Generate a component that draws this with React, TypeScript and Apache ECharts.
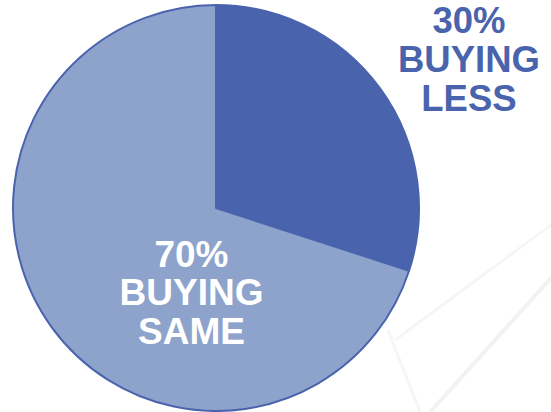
import React, { useEffect, useRef } from "react";
import * as echarts from "echarts";

const categories = ["BUYING LESS", "BUYING SAME"];
const values = [30, 70];
const colors = ["#4a63ad", "#8da3cc"];

export default function App() {
  const ref = useRef<HTMLDivElement>(null);
  useEffect(() => {
    if (!ref.current) return;
    const chart = echarts.init(ref.current, null, { renderer: "svg" });
    const font = "'Liberation Sans', Arial, sans-serif";
    const lines = (i: number) => [`${values[i]}%`, ...categories[i].split(" ")];
    const labelTexts = (i: number, cx: number, y0: number, step: number, fill: string, size: number) =>
      lines(i).map((t, k) => ({
        type: "text",
        x: cx,
        y: y0 + k * step,
        z: 10,
        style: {
          text: t,
          fill,
          font: `bold ${size}px ${font}`,
          lineHeight: 30,
          textAlign: "center",
          textVerticalAlign: "middle",
        },
      }));
    chart.setOption({
      animation: false,
      backgroundColor: "#ffffff",
      graphic: [
        { type: "line", silent: true, z: -1, shape: { x1: 430, y1: 412, x2: 551, y2: 278 }, style: { stroke: "#f2f2f2", lineWidth: 4 } },
        { type: "line", silent: true, z: -1, shape: { x1: 395, y1: 340, x2: 551, y2: 225 }, style: { stroke: "#f6f6f6", lineWidth: 3 } },
        { type: "line", silent: true, z: -1, shape: { x1: 388, y1: 330, x2: 420, y2: 412 }, style: { stroke: "#f6f6f6", lineWidth: 3 } },
        ...labelTexts(0, 469, 20.5, 38.8, "#4a63ad", 36.5),
        ...labelTexts(1, 191.5, 254, 38.5, "#ffffff", 37),
      ],
      series: [
        {
          type: "pie",
          center: [216, 208],
          radius: 203,
          startAngle: 90,
          clockwise: true,
          label: { show: false },
          labelLine: { show: false },
          itemStyle: { borderColor: "#4a63ad", borderWidth: 2 },
          data: categories.map((c, i) => ({
            name: c,
            value: values[i],
            itemStyle: { color: colors[i] },
          })),
        },
      ],
    });
    return () => chart.dispose();
  }, []);
  return <div ref={ref} style={{ width: 551, height: 412, position: "absolute", left: 0, top: 0 }} />;
}
